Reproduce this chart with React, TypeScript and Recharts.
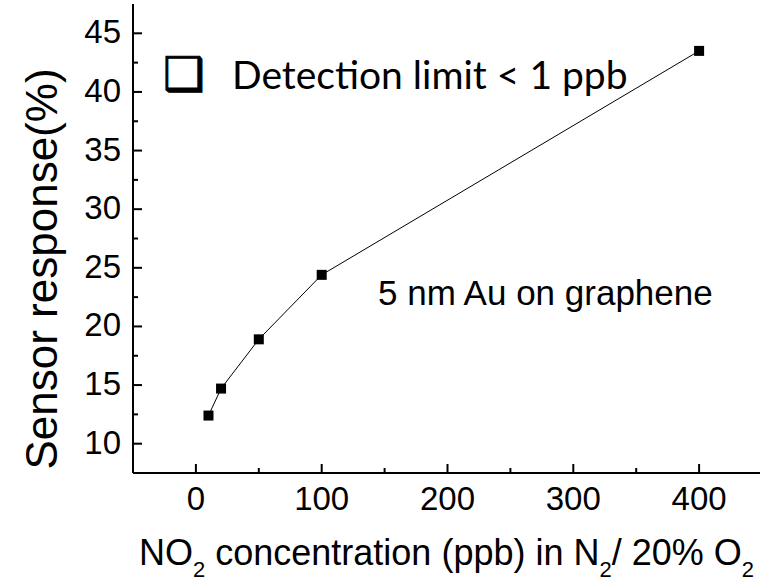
import React from 'react';
import { LineChart, Line, XAxis, YAxis, Customized } from 'recharts';

const concentrations = [10, 20, 50, 100, 400];
const responses = [12.4, 14.7, 18.9, 24.4, 43.5];
const xMajorTicks = [0, 100, 200, 300, 400];
const xMinorTicks = [50, 150, 250, 350];
const yMajorTicks = [10, 15, 20, 25, 30, 35, 40, 45];
const yMinorTicks = [12.5, 17.5, 22.5, 27.5, 32.5, 37.5, 42.5];

const data = concentrations.map((x, i) => ({ x, y: responses[i] }));

const ARIAL = "'Liberation Sans', Arial, sans-serif";
const CALIBRI = "Lato, 'Open Sans', sans-serif";

const BottomTick = (props: any) => {
  const { x, y, payload } = props;
  const v = payload.value;
  const major = xMajorTicks.includes(v);
  return (
    <g>
      <line x1={x} x2={x} y1={y} y2={y - (major ? 9 : 5)} stroke="#000" strokeWidth={2} />
      {major && (
        <text x={x} y={y + 37} textAnchor="middle" fontSize={33} fontFamily={ARIAL} fill="#000">
          {v}
        </text>
      )}
    </g>
  );
};

const TopTick = (props: any) => {
  const { x, y, payload } = props;
  const v = payload.value;
  const major = xMajorTicks.includes(v);
  return <line x1={x} x2={x} y1={y} y2={y + (major ? 9 : 5)} stroke="#000" strokeWidth={2} />;
};

const LeftTick = (props: any) => {
  const { x, y, payload } = props;
  const v = payload.value;
  const major = yMajorTicks.includes(v);
  return (
    <g>
      <line x1={x} x2={x + (major ? 9 : 5)} y1={y} y2={y} stroke="#000" strokeWidth={2} />
      {major && (
        <text x={x - 12} y={y + 10} textAnchor="end" fontSize={33} fontFamily={ARIAL} fill="#000">
          {v}
        </text>
      )}
    </g>
  );
};

const SquareDot = (props: any) => {
  const { cx, cy, key } = props;
  if (cx == null || cy == null) return <g key={key} />;
  return <rect key={key} x={cx - 5} y={cy - 5} width={10} height={10} fill="#000" />;
};

const Annotations = () => (
  <g>
    <text x={57} y={269} transform="rotate(-90, 57, 269)" textAnchor="middle" fontSize={44} fontFamily={ARIAL} fill="#000">
      Sensor response(%)
    </text>
    <text x={139} y={565} fontSize={36} fontFamily={ARIAL} fill="#000">
      <tspan>NO</tspan>
      <tspan fontSize={22} dy={12}>2</tspan>
      <tspan dy={-12}> concentration (ppb) in N</tspan>
      <tspan fontSize={22} dy={12}>2</tspan>
      <tspan dy={-12}>/ 20% O</tspan>
      <tspan fontSize={22} dy={12}>2</tspan>
    </text>
    <text x={163} y={90} fontSize={46} fontFamily="'DejaVu Sans', sans-serif" fill="#000" stroke="#000" strokeWidth={1}>❑</text>
    <text x={232} y={89} fontSize={39} fontFamily={CALIBRI} fill="#000">
      Detection limit &lt; 1 ppb
    </text>
    <text x={378} y={305} fontSize={35} fontFamily={ARIAL} fill="#000">
      5 nm Au on graphene
    </text>
  </g>
);

export default function App() {
  return (
    <div style={{ position: 'absolute', left: 0, top: 0, width: 760, height: 582, overflow: 'hidden', background: '#fff' }}>
      <LineChart width={780} height={582} data={data} margin={{ top: 4, right: 18, bottom: 49, left: 0 }}>
        <XAxis
          dataKey="x"
          type="number"
          domain={[-50, 450]}
          ticks={[...xMajorTicks, ...xMinorTicks].sort((a, b) => a - b)}
          interval={0}
          allowDataOverflow
          height={60}
          tickSize={0}
          tickMargin={0}
          tickLine={false}
          axisLine={{ stroke: '#000', strokeWidth: 2 }}
          tick={<BottomTick />}
        />
        <XAxis
          xAxisId="top"
          orientation="top"
          type="number"
          domain={[-50, 450]}
          ticks={[...xMajorTicks, ...xMinorTicks].sort((a, b) => a - b)}
          interval={0}
          allowDataOverflow
          height={0}
          tickSize={0}
          tickMargin={0}
          tickLine={false}
          axisLine={{ stroke: '#000', strokeWidth: 2 }}
          tick={<TopTick />}
        />
        <YAxis
          type="number"
          domain={[7.5, 47.5]}
          ticks={[...yMajorTicks, ...yMinorTicks].sort((a, b) => a - b)}
          interval={0}
          allowDataOverflow
          width={133}
          tickSize={0}
          tickMargin={0}
          tickLine={false}
          axisLine={{ stroke: '#000', strokeWidth: 2 }}
          tick={<LeftTick />}
        />
        <Line
          type="linear"
          dataKey="y"
          stroke="#000"
          strokeWidth={1}
          dot={<SquareDot />}
          activeDot={false}
          isAnimationActive={false}
        />
        <Customized component={Annotations} />
      </LineChart>
    </div>
  );
}
